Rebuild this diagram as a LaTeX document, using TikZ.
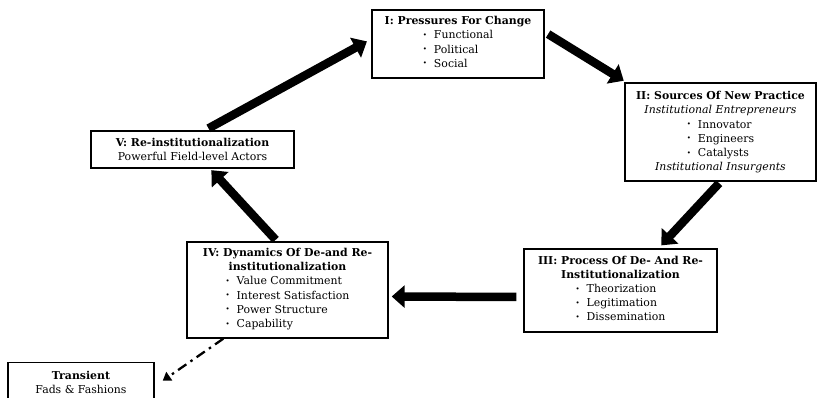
\documentclass[tikz,border=0pt]{standalone}
\usepackage{fontspec}
\setmainfont{DejaVu Serif}
\usetikzlibrary{arrows.meta}

\newcommand{\itm}[1]{\raisebox{0.25ex}{\scriptsize\textbullet}\hspace{7pt}#1}

\tikzset{
  okvir/.style={draw,line width=1.4pt,align=center,inner sep=1pt,
    font=\fontsize{10.9}{14.2}\selectfont},
  debela/.style={line width=8.5pt,-{Triangle[length=13pt,width=22pt]}},
  crtkana/.style={line width=2.3pt,dash pattern=on 10pt off 5pt on 2.5pt off 5pt,
    -{Triangle[length=8pt,width=10pt]}}
}

\begin{document}
\begin{tikzpicture}[x=1pt,y=-1pt]
\useasboundingbox (0,0) rectangle (819,398);

%okvirji
\node[okvir,minimum width=172,minimum height=68] (i) at (458,44)
  {\textbf{I: Pressures For Change}\\
   \begin{tabular}[t]{@{}l@{}}\itm{Functional}\\ \itm{Political}\\ \itm{Social}\end{tabular}};
\node[okvir,minimum width=191,minimum height=98] (ii) at (720.5,132)
  {\textbf{II: Sources Of New Practice}\\ \textit{Institutional Entrepreneurs}\\
   \begin{tabular}[t]{@{}l@{}}\itm{Innovator}\\ \itm{Engineers}\\ \itm{Catalysts}\end{tabular}\\
   \textit{Institutional Insurgents}};
\node[okvir,minimum width=193,minimum height=83] (iii) at (620.5,290.5)
  {\textbf{III: Process Of De- And Re-}\\ \textbf{Institutionalization}\\
   \begin{tabular}[t]{@{}l@{}}\itm{Theorization}\\ \itm{Legitimation}\\ \itm{Dissemination}\end{tabular}};
\node[okvir,minimum width=201,minimum height=96] (iv) at (287.5,290)
  {\textbf{IV: Dynamics Of De-and Re-}\\ \textbf{institutionalization}\\
   \begin{tabular}[t]{@{}l@{}}\itm{Value Commitment}\\ \itm{Interest Satisfaction}\\
   \itm{Power Structure}\\ \itm{Capability}\end{tabular}};
\node[okvir,minimum width=203,minimum height=37] (v) at (192.5,149.5)
  {\textbf{V: Re-institutionalization}\\ Powerful Field-level Actors};
\node[okvir,minimum width=146,minimum height=40,anchor=north] (t) at (81,362)
  {\textbf{Transient}\\ Fads \& Fashions};

%puscice
\draw[debela,shorten <=4pt,shorten >=5pt] ([xshift=12.5pt]v.north) -- ([yshift=5pt]i.west);
\draw[debela,shorten <=4pt,shorten >=3pt] ([yshift=12pt]i.east) -- ([xshift=2pt]ii.north west);
\draw[debela,shorten <=2pt,shorten >=4pt] (ii.south) -- ([xshift=38pt]iii.north);
\draw[debela,shorten <=7pt,shorten >=3pt] ([yshift=-6.5pt]iii.west) -- ([yshift=-6.5pt]iv.east);
\draw[debela,shorten <=2pt,shorten >=2pt] ([xshift=-10.5pt]iv.north) -- ([xshift=17.5pt]v.south);
\draw[crtkana] ([xshift=37pt]iv.south west) -- ([xshift=8pt,yshift=2pt]t.east);
\end{tikzpicture}
\end{document}
